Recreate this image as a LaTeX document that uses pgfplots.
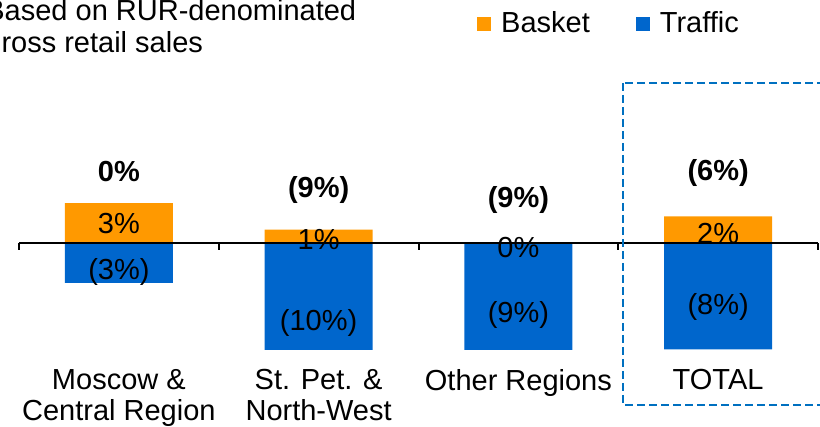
\documentclass[border=0pt]{standalone}
\usepackage{pgfplots}
\pgfplotsset{compat=1.18}
\usepackage{fontspec}
\setmainfont{Liberation Sans}
\definecolor{basket}{RGB}{255,153,0}
\definecolor{traffic}{RGB}{0,102,204}
\definecolor{boxblue}{RGB}{0,112,192}
\begin{document}
\begin{tikzpicture}[font=\fontsize{14.5}{15}\selectfont]
\useasboundingbox (0,0) rectangle (410pt,213.5pt);
\clip (0,0) rectangle (410pt,213.5pt);
\node[anchor=base west, inner sep=0pt] at (-7.5pt,203pt) {Based on RUR-denominated};
\node[anchor=base west, inner sep=0pt] at (-7.5pt,187pt) {gross retail sales};
\begin{axis}[
  at={(9.5pt,38.5pt)}, anchor=south west,
  scale only axis, width=399.5pt, height=150pt,
  xmin=-0.5, xmax=3.5, ymin=-8.05, ymax=14.51,
  clip mode=individual,
  axis line style={draw=none},
  ytick=\empty,
  xtick={0,1,2,3},
  xticklabels={{Moscow \&\\Central Region},{St. Pet. \&\\North-West},{Other Regions},{TOTAL}},
  xticklabel style={align=center, yshift=-6pt, font=\fontsize{14.5}{15.5}\selectfont},
  major tick length=0pt,
  ybar, bar width=54pt,
  legend columns=2,
  legend style={draw=none, fill=none, at={(axis description cs:0.573,1.088)}, anchor=west,
    inner xsep=0pt, font=\fontsize{14.5}{15}\selectfont,
    /tikz/every odd column/.append style={column sep=3pt},
    /tikz/every even column/.append style={column sep=21pt}},
  legend image code/.code={\fill[#1] (0pt,-3.5pt) rectangle (7pt,3.5pt);},
]
\addplot[fill=basket, draw=none, bar shift=0pt] coordinates {(0,3) (1,1) (2,0) (3,2)};
\addlegendentry{Basket}
\addplot[fill=traffic, draw=none, bar shift=0pt] coordinates {(0,-3) (1,-10) (2,-9) (3,-8)};
\addlegendentry{Traffic}
\draw[black, line width=1pt] (axis cs:-0.5,0) -- (axis cs:3.5,0);
\draw[black, line width=1pt] (axis cs:-0.5,0) -- (axis cs:-0.5,-0.55);
\draw[black, line width=1pt] (axis cs:0.5,0) -- (axis cs:0.5,-0.55);
\draw[black, line width=1pt] (axis cs:1.5,0) -- (axis cs:1.5,-0.55);
\draw[black, line width=1pt] (axis cs:2.5,0) -- (axis cs:2.5,-0.55);
\draw[black, line width=1pt] (axis cs:3.5,0) -- (axis cs:3.5,-0.55);
\node at (axis cs:0,1.45) {3\%};
\node at (axis cs:0,-2.18) {(3\%)};
\node at (axis cs:1,0.23) {1\%};
\node at (axis cs:1,-6.0) {(10\%)};
\node at (axis cs:2,-0.38) {0\%};
\node at (axis cs:2,-5.4) {(9\%)};
\node at (axis cs:3,0.75) {2\%};
\node at (axis cs:3,-4.8) {(8\%)};
\node[font=\fontsize{14.5}{15}\selectfont\bfseries] at (axis cs:0,5.34) {0\%};
\node[font=\fontsize{14.5}{15}\selectfont\bfseries] at (axis cs:1,3.98) {(9\%)};
\node[font=\fontsize{14.5}{15}\selectfont\bfseries] at (axis cs:2,3.23) {(9\%)};
\node[font=\fontsize{14.5}{15}\selectfont\bfseries] at (axis cs:3,5.26) {(6\%)};
\end{axis}
\draw[boxblue, line width=1pt, dash pattern=on 4pt off 2pt] (311.5pt,172pt) rectangle (420pt,11pt);
\end{tikzpicture}
\end{document}
